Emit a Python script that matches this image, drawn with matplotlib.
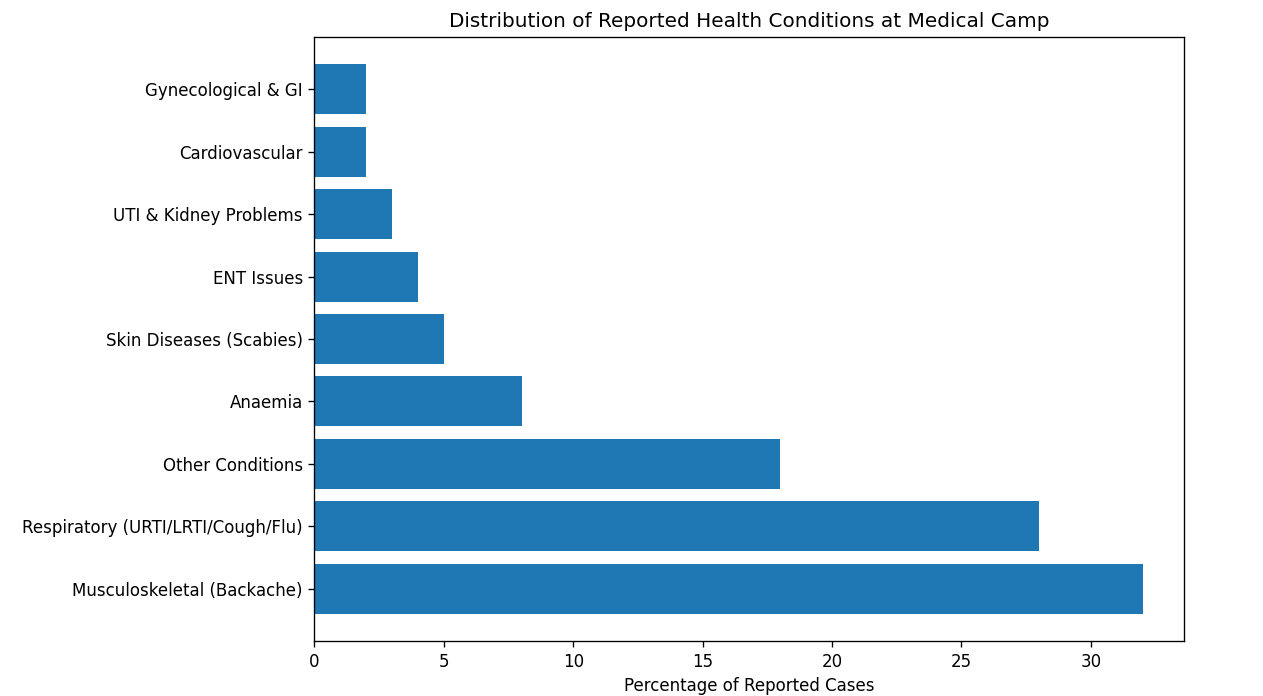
import matplotlib
matplotlib.use('Agg')
import matplotlib.pyplot as plt

conditions = [
    'Musculoskeletal (Backache)',
    'Respiratory (URTI/LRTI/Cough/Flu)',
    'Other Conditions',
    'Anaemia',
    'Skin Diseases (Scabies)',
    'ENT Issues',
    'UTI & Kidney Problems',
    'Cardiovascular',
    'Gynecological & GI',
]
percentages = [32, 28, 18, 8, 5, 4, 3, 2, 2]

# rendered at 120 dpi so text and ticks come out at the reference scale
fig = plt.figure(figsize=(1263 / 120, 696 / 120), dpi=120)
ax = fig.add_axes([0.249, 0.079, 0.6885, 0.868])
ax.barh(conditions, percentages, color='#1f77b4')

ax.set_xlabel('Percentage of Reported Cases')
ax.set_title('Distribution of Reported Health Conditions at Medical Camp')

plt.savefig('out.png', dpi=120)
plt.close()
